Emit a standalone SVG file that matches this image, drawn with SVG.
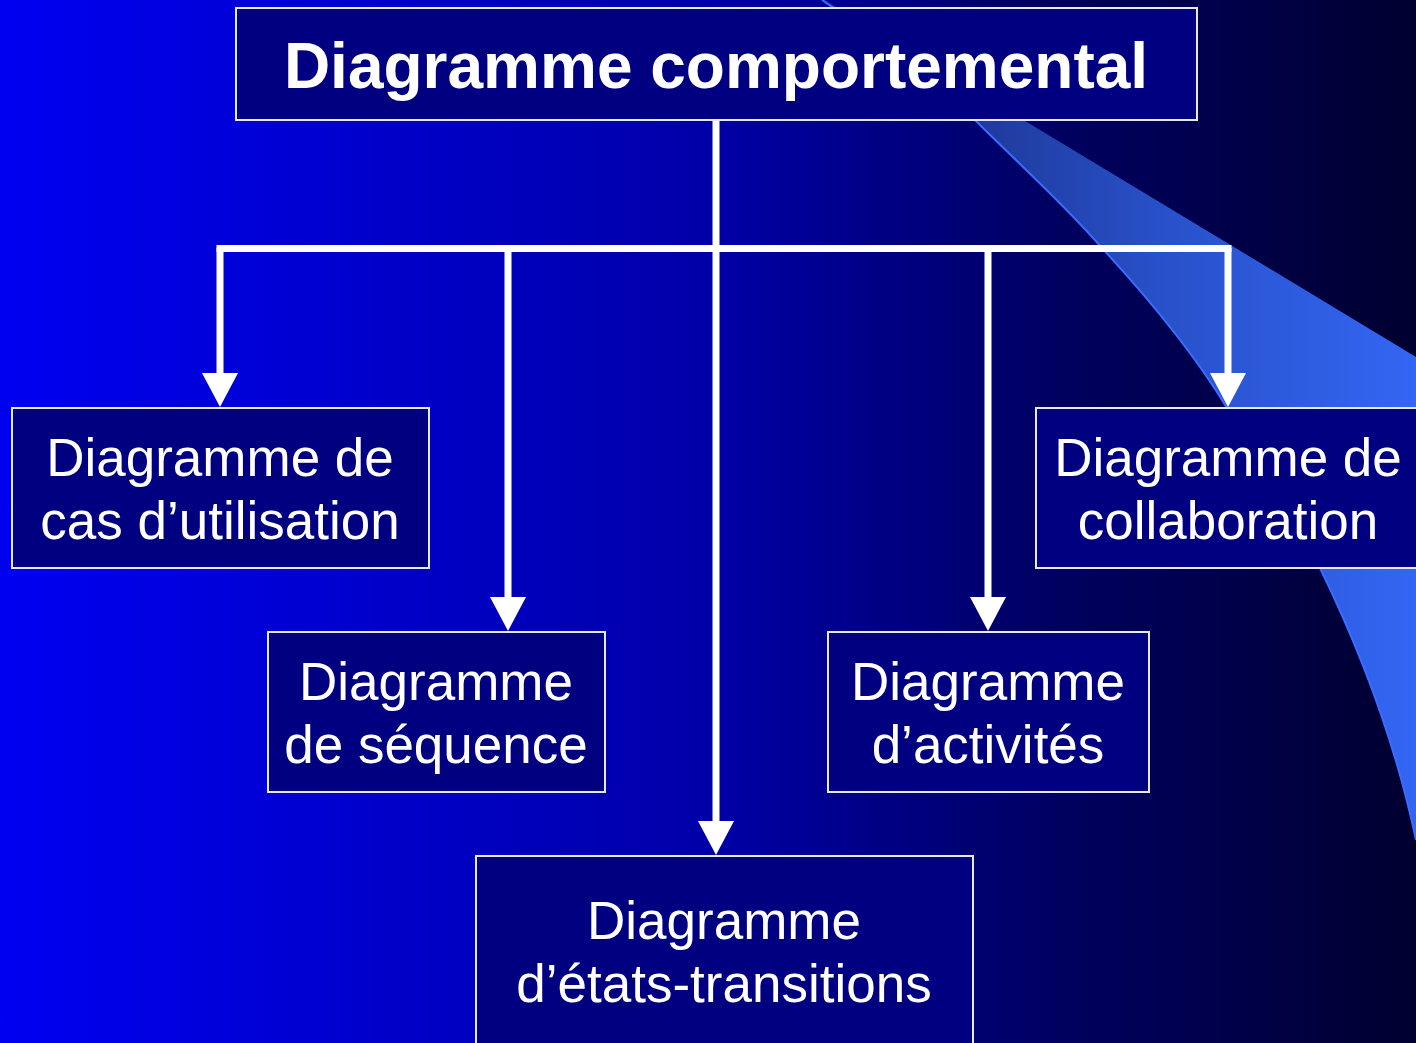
<svg xmlns="http://www.w3.org/2000/svg" width="1416" height="1043" viewBox="0 0 1416 1043">
  <defs>
    <linearGradient id="bg" x1="0" y1="0" x2="1" y2="0">
      <stop offset="0" stop-color="#0000f2"/>
      <stop offset="0.5" stop-color="#0000a8"/>
      <stop offset="0.75" stop-color="#000060"/>
      <stop offset="1" stop-color="#000030"/>
    </linearGradient>
    <linearGradient id="sw" gradientUnits="userSpaceOnUse" x1="900" y1="0" x2="1416" y2="0">
      <stop offset="0" stop-color="#1a3088"/>
      <stop offset="0.5" stop-color="#2850c8"/>
      <stop offset="1" stop-color="#3366f4"/>
    </linearGradient>
    <marker id="arr" viewBox="0 0 36 34" refX="18" refY="34" markerWidth="36" markerHeight="34" markerUnits="userSpaceOnUse" orient="auto-start-reverse">
      <path d="M0,0 L36,0 L18,34 Z" fill="#ffffff"/>
    </marker>
    <style>
      .box { fill: #000080; stroke: #e8e8f0; stroke-width: 2; }
      .t { fill: #ffffff; font-family: "Liberation Sans", Arial, sans-serif; font-size: 53px; text-anchor: middle; }
      .h { fill: #ffffff; font-family: "Liberation Sans", Arial, sans-serif; font-size: 64px; font-weight: bold; text-anchor: middle; }
      .c { stroke: #ffffff; stroke-width: 7; fill: none; }
    </style>
  </defs>

  <rect x="0" y="0" width="1416" height="1043" fill="url(#bg)"/>

  <path d="M822,0 C880,40 940,85 975,120 C1020,165 1065,205 1102,248 C1150,300 1195,355 1227,408 C1260,460 1295,515 1320,568 C1360,650 1395,740 1416,840 L1416,357 L825,0 Z" fill="url(#sw)"/>
  <path d="M822,0 C880,40 940,85 975,120 C1020,165 1065,205 1102,248 C1150,300 1195,355 1227,408 C1260,460 1295,515 1320,568 C1360,650 1395,740 1416,840" fill="none" stroke="#3a6cff" stroke-width="2"/>

  <g id="connectors">
    <path class="c" d="M716,120 L716,822"/>
    <path class="c" d="M216.5,248.5 L1231.5,248.5"/>
    <path class="c" d="M220,248 L220,374"/>
    <path class="c" d="M508,248 L508,598"/>
    <path class="c" d="M988,248 L988,598"/>
    <path class="c" d="M1228,248 L1228,374"/>
    <path d="M202,373 L238,373 L220,407 Z" fill="#fff"/>
    <path d="M490,597 L526,597 L508,631 Z" fill="#fff"/>
    <path d="M698,821 L734,821 L716,855 Z" fill="#fff"/>
    <path d="M970,597 L1006,597 L988,631 Z" fill="#fff"/>
    <path d="M1210,373 L1246,373 L1228,407 Z" fill="#fff"/>
  </g>

  <g id="header">
    <rect class="box" x="236" y="8" width="961" height="112"/>
    <text class="h" x="716" y="88">Diagramme comportemental</text>
  </g>

  <g id="cas-utilisation">
    <rect class="box" x="12" y="408" width="417" height="160"/>
    <text class="t" x="220" y="476">Diagramme de</text>
    <text class="t" x="220" y="539">cas d’utilisation</text>
  </g>

  <g id="sequence">
    <rect class="box" x="268" y="632" width="337" height="160"/>
    <text class="t" x="436" y="700">Diagramme</text>
    <text class="t" x="436" y="763">de séquence</text>
  </g>

  <g id="etats-transitions">
    <rect class="box" x="476" y="856" width="497" height="200"/>
    <text class="t" x="724" y="939">Diagramme</text>
    <text class="t" x="724" y="1002">d’états-transitions</text>
  </g>

  <g id="activites">
    <rect class="box" x="828" y="632" width="321" height="160"/>
    <text class="t" x="988" y="700">Diagramme</text>
    <text class="t" x="988" y="763">d’activités</text>
  </g>

  <g id="collaboration">
    <rect class="box" x="1036" y="408" width="400" height="160"/>
    <text class="t" x="1228" y="476">Diagramme de</text>
    <text class="t" x="1228" y="539">collaboration</text>
  </g>
</svg>
